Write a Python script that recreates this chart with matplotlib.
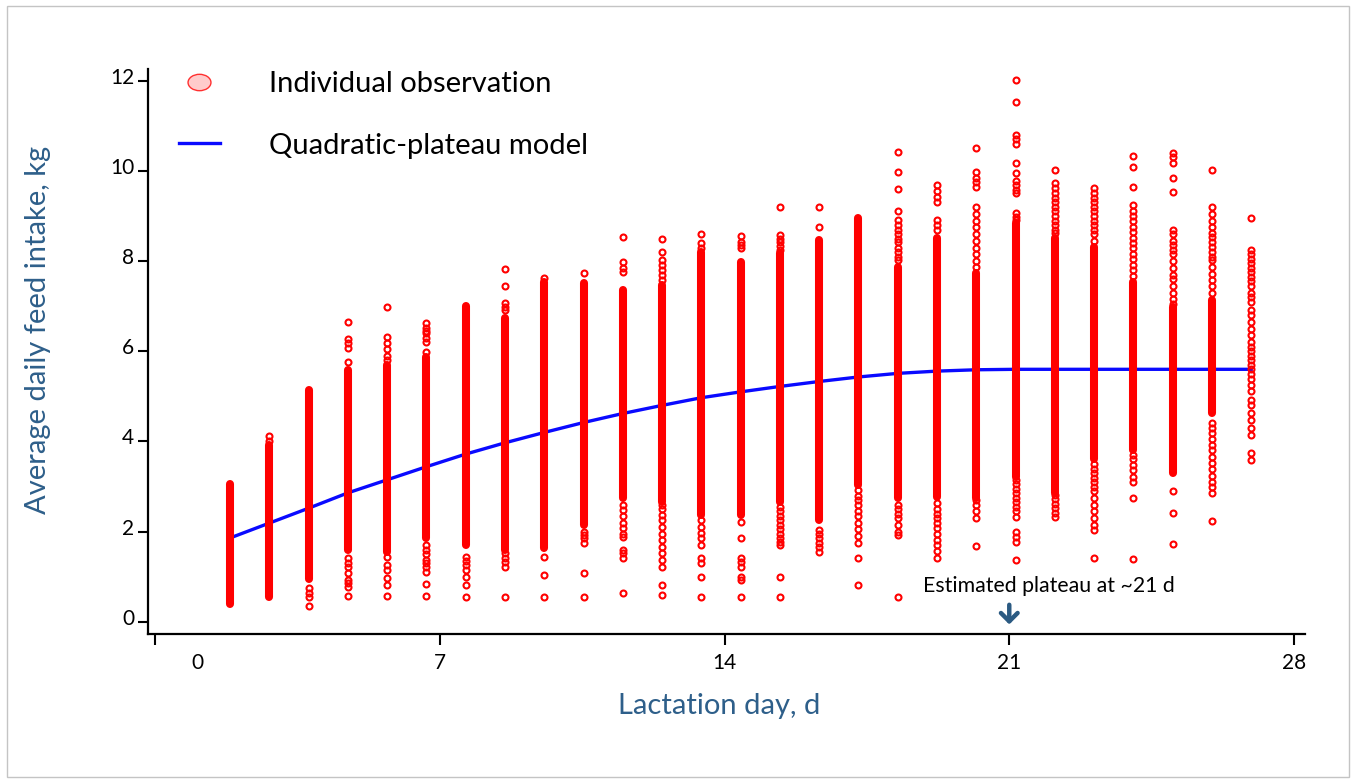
import matplotlib
matplotlib.use("Agg")
import matplotlib.pyplot as plt
import numpy as np
from matplotlib.lines import Line2D
from matplotlib.path import Path
from matplotlib.patches import Rectangle
from matplotlib.transforms import Affine2D, ScaledTranslation

plt.rcParams['font.family'] = ['Lato', 'DejaVu Sans']

# lactation days with observations
days = list(range(1, 28))

# quadratic-plateau fit, read at each day
model_fit = [1.86, 2.19, 2.52, 2.86, 3.15, 3.44, 3.72, 3.97, 4.20, 4.42,
             4.62, 4.80, 4.97, 5.10, 5.22, 5.33, 5.43, 5.51, 5.56, 5.59,
             5.60, 5.60, 5.60, 5.60, 5.60, 5.60, 5.60]

# range where the observations overlap into a solid column (nan = none)
dense_lo = [0.40, 0.55, 0.95, 1.60, 1.55, 1.86, 1.70, 1.60, 1.64, 2.15,
            2.75, 2.66, 2.37, 2.37, 2.66, 2.26, 3.04, 2.75, 2.77, 2.75,
            3.22, 2.86, 3.60, 3.81, 3.30, 4.63, np.nan]
dense_hi = [3.05, 3.92, 5.15, 5.59, 5.70, 5.88, 7.00, 6.74, 7.54, 7.52,
            7.36, 7.47, 8.20, 7.98, 8.18, 8.47, 8.96, 7.87, 8.51, 7.74,
            8.85, 8.51, 8.31, 7.54, 6.98, 7.14, np.nan]

# separate observations outside the solid columns
extra_obs = [
    [],
    [4.00, 4.12],
    [0.35, 0.55, 0.65, 0.75],
    [6.65, 6.27, 6.18, 6.07, 5.76, 1.42, 1.30, 1.22, 1.08, 0.93, 0.85, 0.78, 0.58],
    [6.98, 6.32, 6.18, 6.05, 5.90, 5.81, 1.44, 1.26, 1.15, 0.98, 0.82, 0.58],
    [6.63, 6.52, 6.45, 6.40, 6.30, 6.20, 5.98, 1.70, 1.60, 1.50, 1.38, 1.30, 1.22, 1.10, 0.84, 0.58],
    [1.44, 1.35, 1.25, 1.15, 1.00, 0.82, 0.56],
    [7.83, 7.45, 7.07, 6.98, 6.92, 1.53, 1.42, 1.32, 1.22, 0.55],
    [7.63, 1.44, 1.04, 0.56],
    [7.74, 2.00, 1.92, 1.85, 1.75, 1.08, 0.55],
    [8.53, 7.98, 7.84, 7.76, 2.60, 2.48, 2.35, 2.20, 2.08, 1.95, 1.88, 1.60, 1.52, 1.42, 0.64],
    [8.49, 8.20, 8.03, 7.92, 7.80, 7.70, 7.58, 2.60, 2.50, 2.38, 2.25, 2.10, 1.95, 1.82,
     1.66, 1.52, 1.38, 1.22, 0.82, 0.60],
    [8.60, 8.40, 8.30, 2.26, 2.10, 1.98, 1.85, 1.70, 1.42, 1.31, 1.00, 0.56],
    [8.56, 8.43, 8.36, 8.29, 2.22, 1.86, 1.42, 1.33, 1.22, 1.00, 0.93, 0.56],
    [9.20, 8.58, 8.50, 8.42, 8.33, 8.25, 2.55, 2.45, 2.35, 2.25, 2.15, 2.05, 1.95, 1.85,
     1.77, 1.70, 1.00, 0.56],
    [9.20, 8.76, 2.04, 1.95, 1.85, 1.75, 1.65, 1.55],
    [2.93, 2.80, 2.70, 2.60, 2.45, 2.35, 2.20, 2.05, 1.90, 1.75, 1.42, 0.82],
    [10.42, 9.98, 9.60, 9.11, 8.91, 8.80, 8.70, 8.60, 8.50, 8.42, 8.30, 8.20, 8.10, 8.03,
     2.60, 2.50, 2.40, 2.30, 2.15, 2.00, 1.93, 0.56],
    [9.69, 9.55, 9.43, 9.31, 8.91, 8.80, 8.69, 2.64, 2.50, 2.40, 2.30, 2.20, 2.08, 1.95,
     1.82, 1.70, 1.58, 1.42],
    [10.51, 9.98, 9.85, 9.75, 9.64, 9.20, 9.05, 8.90, 8.75, 8.60, 8.45, 8.30, 8.15, 8.00,
     7.87, 2.70, 2.60, 2.45, 2.30, 1.68],
    [12.02, 11.52, 10.80, 10.70, 10.60, 10.18, 9.95, 9.78, 9.69, 9.58, 9.51, 9.07, 8.98,
     8.91, 3.15, 3.05, 2.95, 2.85, 2.75, 2.65, 2.55, 2.45, 2.33, 2.00, 1.88, 1.77, 1.37],
    [10.02, 9.73, 9.62, 9.50, 9.40, 9.30, 9.20, 9.10, 9.00, 8.90, 8.80, 8.70, 8.62,
     2.82, 2.72, 2.62, 2.52, 2.42, 2.33],
    [9.62, 9.50, 9.40, 9.30, 9.20, 9.10, 9.00, 8.90, 8.80, 8.70, 8.60, 8.45,
     3.50, 3.40, 3.30, 3.20, 3.10, 3.00, 2.90, 2.75, 2.60, 2.45, 2.30, 2.15, 2.04, 1.42],
    [10.33, 10.09, 9.64, 9.24, 9.12, 9.00, 8.88, 8.76, 8.64, 8.52, 8.40, 8.28, 8.16,
     8.04, 7.92, 7.80, 7.68, 3.70, 3.60, 3.48, 3.36, 3.22, 3.10, 2.75, 1.40],
    [10.40, 10.30, 10.18, 9.84, 9.53, 8.69, 8.60, 8.45, 8.35, 8.25, 8.15, 8.00, 7.85,
     7.70, 7.60, 7.45, 7.30, 7.15, 7.05, 2.90, 2.42, 1.73],
    [10.02, 9.20, 9.05, 8.90, 8.75, 8.62, 8.54, 8.43, 8.32, 8.20, 8.10, 8.03, 7.87,
     7.72, 7.58, 7.44, 7.30, 4.41, 4.30, 4.18, 4.05, 3.92, 3.80, 3.66, 3.52, 3.38,
     3.24, 3.10, 2.98, 2.86, 2.24],
    [8.96, 8.25, 8.15, 8.05, 7.95, 7.85, 7.75, 7.65, 7.55, 7.45, 7.30, 7.20, 7.10,
     6.92, 6.80, 6.65, 6.50, 6.35, 6.20, 6.10, 6.00, 5.90, 5.80, 5.70, 5.60, 5.50,
     5.38, 5.25, 5.12, 4.92, 4.80, 4.63, 4.48, 4.30, 4.15, 3.75, 3.59],
]

x_tick_labels = [0, 7, 14, 21, 28]
y_ticks = [0, 2, 4, 6, 8, 10, 12]
plateau_day = 21

blue_txt = '#2e5f8a'

fig = plt.figure(figsize=(13.55, 7.83), dpi=100)
ax = fig.add_axes([148 / 1355, 149 / 783, 1157 / 1355, 565 / 783])

ax.plot(days, model_fit, color='#0a0aff', lw=2.4, zorder=2)

d = np.array(days, dtype=float)
lo = np.array(dense_lo)
hi = np.array(dense_hi)
ok = ~np.isnan(lo)
ax.vlines(d[ok], lo[ok], hi[ok], colors='red', linewidth=5.8, capstyle='round', zorder=3)

ex_x = []
ex_y = []
for day, vals in zip(days, extra_obs):
    ex_x += [day] * len(vals)
    ex_y += vals
ax.plot(ex_x, ex_y, linestyle='none', marker='o', ms=4.3, mfc='none',
        mec='red', mew=1.5, zorder=3)

ax.set_xlim(-1.09, 28.37)
ax.set_ylim(-0.27, 12.26)

# the printed day axis is slightly stretched against the data columns
tick_pos = [-0.91 + t * 7.25 / 7 for t in x_tick_labels]
ax.set_xticks(tick_pos, [str(t) for t in x_tick_labels])
ax.set_yticks(y_ticks, [str(t) for t in y_ticks])

for s in ['top', 'right']:
    ax.spines[s].set_visible(False)
for s in ['left', 'bottom']:
    ax.spines[s].set_linewidth(1.6)

ax.tick_params(axis='y', length=7, width=1.5, pad=3, labelsize=15)
ax.tick_params(axis='x', length=8, width=1.5, pad=6, labelsize=15)

for lab in ax.get_yticklabels():
    lab.set_transform(lab.get_transform() + ScaledTranslation(0, 0.05, fig.dpi_scale_trans))
xl = ax.get_xticklabels()
xl[0].set_transform(xl[0].get_transform() + ScaledTranslation(0.42, 0, fig.dpi_scale_trans))

ax.set_xlabel('Lactation day, d', fontsize=21, color=blue_txt)
ax.xaxis.set_label_coords(0.494, -0.105)
ax.set_ylabel('Average daily feed intake, kg', fontsize=21, color=blue_txt)
ax.yaxis.set_label_coords(-0.084, 0.538)

# arrow and note at the plateau
x21 = tick_pos[x_tick_labels.index(plateau_day)]
ax.annotate('', xy=(x21, -0.12), xytext=(x21, 0.44),
            arrowprops=dict(arrowstyle='->,head_length=0.6,head_width=0.6',
                            color='#2b5a82', lw=3.2))
ax.text(x21 + 1.0, 0.80, 'Estimated plateau at ~21 d', ha='center', va='center',
        fontsize=15.3)

# legend
ellipse = Path.unit_circle().transformed(Affine2D().scale(1.4, 1.0))
handles = [
    Line2D([], [], linestyle='none', marker=ellipse, ms=16.5, mfc='#ffcccc', mec='#ff3030', mew=1),
    Line2D([], [], color='#0a0aff', lw=2.4),
]
ax.legend(handles, ['Individual observation', 'Quadratic-plateau model'],
          loc='upper left', bbox_to_anchor=(179 / 1355, 1 - 71 / 783),
          bbox_transform=fig.transFigure, frameon=False, fontsize=21,
          handlelength=1.4, handletextpad=1.7, labelspacing=1.22,
          borderpad=0, borderaxespad=0)

fig.patches.append(Rectangle((7 / 1355, 6 / 783), 1342 / 1355, 771 / 783,
                             transform=fig.transFigure, fill=False,
                             ec='#c4c4c4', lw=1))

fig.savefig('out.png', dpi=100)
